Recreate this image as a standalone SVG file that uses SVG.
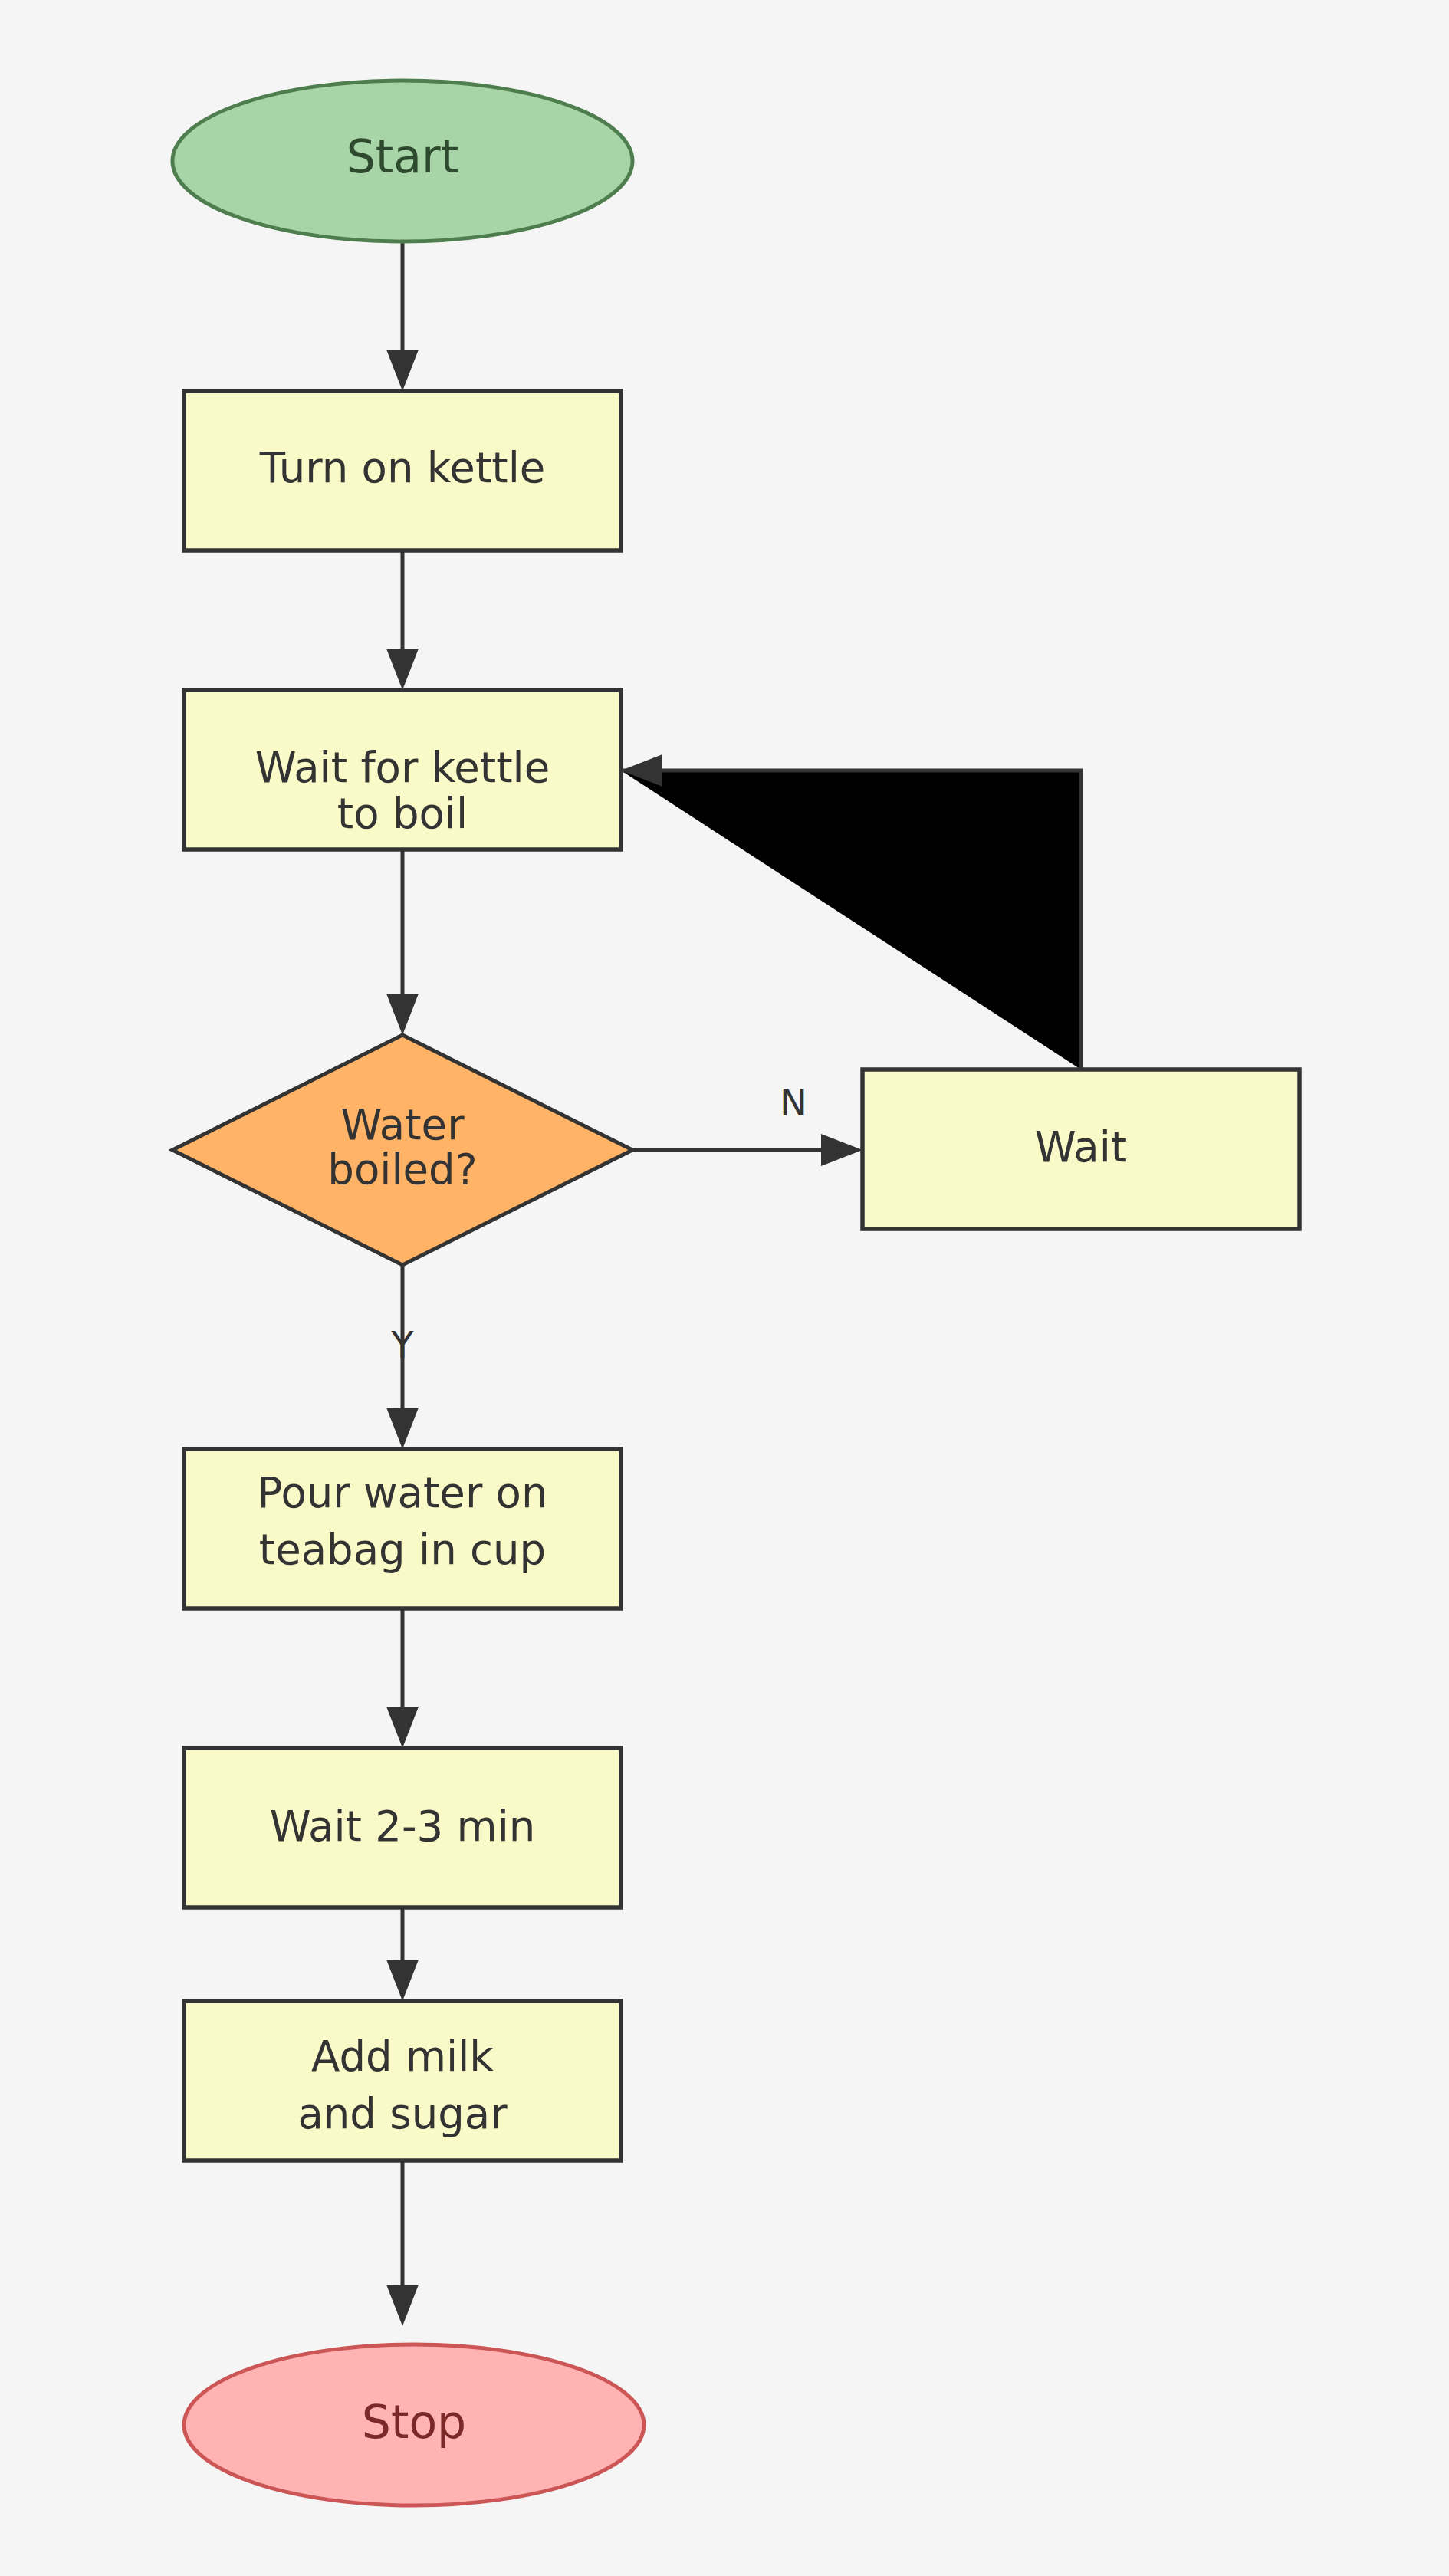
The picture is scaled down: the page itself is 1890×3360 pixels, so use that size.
<svg xmlns="http://www.w3.org/2000/svg" width="1890" height="3360" viewBox="0 0 1890 3360">
<defs>
<style>
.bg{fill:#f5f5f5}
.proc{fill:#fafac8;stroke:#333;stroke-width:5.5}
.dec{fill:#ffb366;stroke:#333;stroke-width:5}
.start{fill:#a7d5a7;stroke:#4e7e4e;stroke-width:5}
.stop{fill:#ffb3b3;stroke:#cc5555;stroke-width:5}
text{font-family:"DejaVu Sans","Liberation Sans",sans-serif;text-anchor:middle}
.t{font-size:54.5px;fill:#333}
.ts{font-size:60px;fill:#2e4a2e}
.tp{font-size:60px;fill:#7a2828}
.lbl{font-size:48px;fill:#333}
.edge{fill:none;stroke:#333;stroke-width:5;marker-end:url(#arr)}
.loop{fill:#000;stroke:#333;stroke-width:5;marker-end:url(#arrtip)}
</style>
<marker id="arr" markerUnits="userSpaceOnUse" markerWidth="54" markerHeight="42" viewBox="0 0 54 42" refX="44" refY="21" orient="auto">
<path d="M0,0 L54,21 L0,42 z" fill="#333"/>
</marker>
<marker id="arrtip" markerUnits="userSpaceOnUse" markerWidth="54" markerHeight="42" viewBox="0 0 54 42" refX="54" refY="21" orient="auto">
<path d="M0,0 L54,21 L0,42 z" fill="#333"/>
</marker>
</defs>
<rect class="bg" x="0" y="0" width="1890" height="3360"/>
<g id="connectors">
<path class="edge" d="M525,315 V500"/>
<path class="edge" d="M525,718 V890"/>
<path class="edge" d="M525,1108 V1340"/>
<path class="edge" d="M825,1500 H1115"/>
<path class="loop" d="M1410,1395 V1005 H810"/>
<path class="edge" d="M525,1650 V1880"/>
<path class="edge" d="M525,2098 V2270"/>
<path class="edge" d="M525,2488 V2600"/>
<path class="edge" d="M525,2818 V3024"/>
<text class="lbl" x="1035" y="1455">N</text>
<text class="lbl" x="525" y="1771">Y</text>
</g>
<g id="start">
<ellipse class="start" cx="525" cy="210" rx="300" ry="105"/>
<text class="ts" x="525" y="225">Start</text>
</g>
<g id="turn-on-kettle">
<rect class="proc" x="240" y="510" width="570" height="208"/>
<text class="t" x="525" y="629">Turn on kettle</text>
</g>
<g id="wait-for-kettle">
<rect class="proc" x="240" y="900" width="570" height="208"/>
<text class="t" x="525" y="1020">Wait for kettle</text>
<text class="t" x="525" y="1080">to boil</text>
</g>
<g id="water-boiled">
<polygon class="dec" points="525,1350 825,1500 525,1650 225,1500"/>
<text class="t" x="525" y="1486">Water</text>
<text class="t" x="525" y="1544">boiled?</text>
</g>
<g id="wait">
<rect class="proc" x="1125" y="1395" width="570" height="208"/>
<text class="t" x="1410" y="1515">Wait</text>
</g>
<g id="pour-water">
<rect class="proc" x="240" y="1890" width="570" height="208"/>
<text class="t" x="525" y="1966">Pour water on</text>
<text class="t" x="525" y="2040">teabag in cup</text>
</g>
<g id="wait-2-3">
<rect class="proc" x="240" y="2280" width="570" height="208"/>
<text class="t" x="525" y="2401">Wait 2-3 min</text>
</g>
<g id="add-milk">
<rect class="proc" x="240" y="2610" width="570" height="208"/>
<text class="t" x="525" y="2701">Add milk</text>
<text class="t" x="525" y="2776">and sugar</text>
</g>
<g id="stop">
<ellipse class="stop" cx="540" cy="3163" rx="300" ry="105"/>
<text class="tp" x="540" y="3180">Stop</text>
</g>
</svg>
